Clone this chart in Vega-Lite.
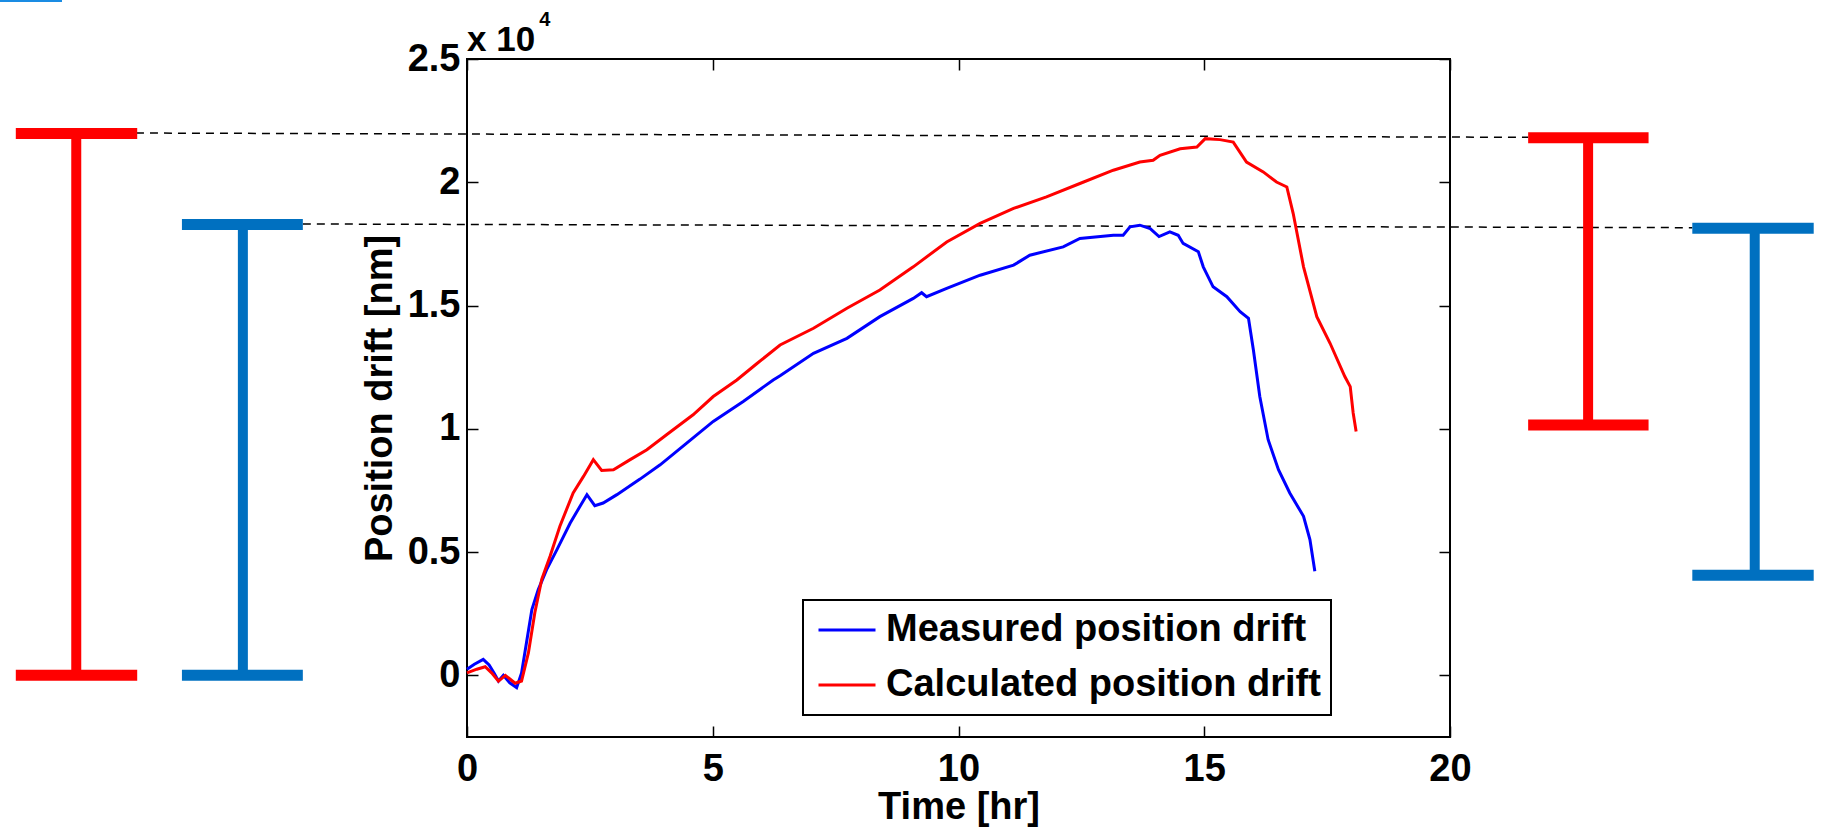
{
  "$schema": "https://vega.github.io/schema/vega-lite/v6.json",
  "width": 983,
  "height": 678,
  "autosize": {"type": "none"},
  "padding": {"left": 467, "top": 59, "right": 376, "bottom": 92},
  "background": "white",
  "datasets": {
    "drift": [
      {"series": "Measured position drift", "t": 0.00, "nm": 250},
      {"series": "Measured position drift", "t": 0.15, "nm": 450},
      {"series": "Measured position drift", "t": 0.33, "nm": 650},
      {"series": "Measured position drift", "t": 0.45, "nm": 420},
      {"series": "Measured position drift", "t": 0.55, "nm": 100},
      {"series": "Measured position drift", "t": 0.64, "nm": -230},
      {"series": "Measured position drift", "t": 0.74, "nm": 0},
      {"series": "Measured position drift", "t": 0.87, "nm": -300},
      {"series": "Measured position drift", "t": 1.01, "nm": -500},
      {"series": "Measured position drift", "t": 1.11, "nm": 100},
      {"series": "Measured position drift", "t": 1.21, "nm": 1320},
      {"series": "Measured position drift", "t": 1.32, "nm": 2670},
      {"series": "Measured position drift", "t": 1.45, "nm": 3480},
      {"series": "Measured position drift", "t": 1.62, "nm": 4290},
      {"series": "Measured position drift", "t": 1.83, "nm": 5100},
      {"series": "Measured position drift", "t": 2.10, "nm": 6180},
      {"series": "Measured position drift", "t": 2.30, "nm": 6860},
      {"series": "Measured position drift", "t": 2.44, "nm": 7330},
      {"series": "Measured position drift", "t": 2.60, "nm": 6880},
      {"series": "Measured position drift", "t": 2.77, "nm": 6990},
      {"series": "Measured position drift", "t": 3.05, "nm": 7330},
      {"series": "Measured position drift", "t": 3.52, "nm": 7960},
      {"series": "Measured position drift", "t": 3.93, "nm": 8540},
      {"series": "Measured position drift", "t": 4.47, "nm": 9420},
      {"series": "Measured position drift", "t": 5.01, "nm": 10300},
      {"series": "Measured position drift", "t": 5.62, "nm": 11110},
      {"series": "Measured position drift", "t": 6.23, "nm": 11980},
      {"series": "Measured position drift", "t": 6.37, "nm": 12150},
      {"series": "Measured position drift", "t": 7.05, "nm": 13060},
      {"series": "Measured position drift", "t": 7.73, "nm": 13670},
      {"series": "Measured position drift", "t": 8.40, "nm": 14550},
      {"series": "Measured position drift", "t": 9.08, "nm": 15290},
      {"series": "Measured position drift", "t": 9.25, "nm": 15520},
      {"series": "Measured position drift", "t": 9.35, "nm": 15360},
      {"series": "Measured position drift", "t": 9.76, "nm": 15700},
      {"series": "Measured position drift", "t": 10.44, "nm": 16230},
      {"series": "Measured position drift", "t": 11.12, "nm": 16640},
      {"series": "Measured position drift", "t": 11.45, "nm": 17040},
      {"series": "Measured position drift", "t": 12.13, "nm": 17380},
      {"series": "Measured position drift", "t": 12.47, "nm": 17720},
      {"series": "Measured position drift", "t": 13.15, "nm": 17850},
      {"series": "Measured position drift", "t": 13.35, "nm": 17850},
      {"series": "Measured position drift", "t": 13.49, "nm": 18190},
      {"series": "Measured position drift", "t": 13.69, "nm": 18260},
      {"series": "Measured position drift", "t": 13.90, "nm": 18120},
      {"series": "Measured position drift", "t": 14.08, "nm": 17800},
      {"series": "Measured position drift", "t": 14.30, "nm": 17990},
      {"series": "Measured position drift", "t": 14.47, "nm": 17850},
      {"series": "Measured position drift", "t": 14.57, "nm": 17520},
      {"series": "Measured position drift", "t": 14.88, "nm": 17180},
      {"series": "Measured position drift", "t": 14.98, "nm": 16570},
      {"series": "Measured position drift", "t": 15.18, "nm": 15760},
      {"series": "Measured position drift", "t": 15.46, "nm": 15360},
      {"series": "Measured position drift", "t": 15.73, "nm": 14750},
      {"series": "Measured position drift", "t": 15.90, "nm": 14480},
      {"series": "Measured position drift", "t": 16.00, "nm": 13200},
      {"series": "Measured position drift", "t": 16.13, "nm": 11310},
      {"series": "Measured position drift", "t": 16.30, "nm": 9560},
      {"series": "Measured position drift", "t": 16.51, "nm": 8340},
      {"series": "Measured position drift", "t": 16.74, "nm": 7400},
      {"series": "Measured position drift", "t": 17.02, "nm": 6450},
      {"series": "Measured position drift", "t": 17.15, "nm": 5510},
      {"series": "Measured position drift", "t": 17.25, "nm": 4220},
      {"series": "Calculated position drift", "t": 0.00, "nm": 100},
      {"series": "Calculated position drift", "t": 0.20, "nm": 250},
      {"series": "Calculated position drift", "t": 0.37, "nm": 350},
      {"series": "Calculated position drift", "t": 0.50, "nm": 100},
      {"series": "Calculated position drift", "t": 0.64, "nm": -230},
      {"series": "Calculated position drift", "t": 0.78, "nm": 0},
      {"series": "Calculated position drift", "t": 0.98, "nm": -320},
      {"series": "Calculated position drift", "t": 1.11, "nm": -230},
      {"series": "Calculated position drift", "t": 1.25, "nm": 920},
      {"series": "Calculated position drift", "t": 1.38, "nm": 2540},
      {"series": "Calculated position drift", "t": 1.52, "nm": 3890},
      {"series": "Calculated position drift", "t": 1.69, "nm": 4830},
      {"series": "Calculated position drift", "t": 1.89, "nm": 6050},
      {"series": "Calculated position drift", "t": 2.16, "nm": 7400},
      {"series": "Calculated position drift", "t": 2.37, "nm": 8070},
      {"series": "Calculated position drift", "t": 2.57, "nm": 8750},
      {"series": "Calculated position drift", "t": 2.74, "nm": 8310},
      {"series": "Calculated position drift", "t": 2.98, "nm": 8340},
      {"series": "Calculated position drift", "t": 3.32, "nm": 8750},
      {"series": "Calculated position drift", "t": 3.66, "nm": 9150},
      {"series": "Calculated position drift", "t": 4.06, "nm": 9760},
      {"series": "Calculated position drift", "t": 4.60, "nm": 10570},
      {"series": "Calculated position drift", "t": 5.01, "nm": 11310},
      {"series": "Calculated position drift", "t": 5.49, "nm": 11980},
      {"series": "Calculated position drift", "t": 5.90, "nm": 12650},
      {"series": "Calculated position drift", "t": 6.37, "nm": 13400},
      {"series": "Calculated position drift", "t": 7.05, "nm": 14080},
      {"series": "Calculated position drift", "t": 7.73, "nm": 14890},
      {"series": "Calculated position drift", "t": 8.40, "nm": 15630},
      {"series": "Calculated position drift", "t": 9.08, "nm": 16570},
      {"series": "Calculated position drift", "t": 9.76, "nm": 17580},
      {"series": "Calculated position drift", "t": 10.44, "nm": 18330},
      {"series": "Calculated position drift", "t": 11.12, "nm": 18940},
      {"series": "Calculated position drift", "t": 11.79, "nm": 19410},
      {"series": "Calculated position drift", "t": 12.47, "nm": 19950},
      {"series": "Calculated position drift", "t": 13.15, "nm": 20490},
      {"series": "Calculated position drift", "t": 13.69, "nm": 20820},
      {"series": "Calculated position drift", "t": 13.96, "nm": 20890},
      {"series": "Calculated position drift", "t": 14.10, "nm": 21090},
      {"series": "Calculated position drift", "t": 14.51, "nm": 21360},
      {"series": "Calculated position drift", "t": 14.85, "nm": 21430},
      {"series": "Calculated position drift", "t": 15.02, "nm": 21770},
      {"series": "Calculated position drift", "t": 15.32, "nm": 21730},
      {"series": "Calculated position drift", "t": 15.59, "nm": 21630},
      {"series": "Calculated position drift", "t": 15.86, "nm": 20820},
      {"series": "Calculated position drift", "t": 16.20, "nm": 20420},
      {"series": "Calculated position drift", "t": 16.47, "nm": 20010},
      {"series": "Calculated position drift", "t": 16.68, "nm": 19810},
      {"series": "Calculated position drift", "t": 16.81, "nm": 18730},
      {"series": "Calculated position drift", "t": 17.02, "nm": 16570},
      {"series": "Calculated position drift", "t": 17.29, "nm": 14550},
      {"series": "Calculated position drift", "t": 17.56, "nm": 13470},
      {"series": "Calculated position drift", "t": 17.86, "nm": 12120},
      {"series": "Calculated position drift", "t": 17.97, "nm": 11710},
      {"series": "Calculated position drift", "t": 18.03, "nm": 10640},
      {"series": "Calculated position drift", "t": 18.09, "nm": 9890}
    ],
    "ranges": [
      {"series": "Calculated", "xc": -7.95, "x0": -9.18, "x1": -6.71, "top": 21978, "bottom": 0},
      {"series": "Measured", "xc": -4.56, "x0": -5.80, "x1": -3.34, "top": 18287, "bottom": 0},
      {"series": "Calculated", "xc": 22.81, "x0": 21.59, "x1": 24.04, "top": 21808, "bottom": 10155},
      {"series": "Measured", "xc": 26.20, "x0": 24.93, "x1": 27.40, "top": 18133, "bottom": 4059}
    ],
    "guides": [
      {"x0": -7.02, "x1": 21.59, "y0": 21999, "y1": 21824},
      {"x0": -3.34, "x1": 24.93, "y0": 18308, "y1": 18158}
    ]
  },
  "layer": [
    {
      "data": {"name": "guides"},
      "mark": {"type": "rule", "color": "black", "strokeWidth": 1.5, "strokeDash": [8, 6]},
      "encoding": {
        "x": {"field": "x0", "type": "quantitative", "scale": {"domain": [0, 20], "nice": false, "zero": false},
              "axis": {"orient": "top", "labels": false, "title": null, "values": [0, 5, 10, 15, 20]}},
        "x2": {"field": "x1"},
        "y": {"field": "y0", "type": "quantitative", "scale": {"domain": [-2500, 25000], "nice": false, "zero": false},
              "axis": {"orient": "right", "labels": false, "title": null, "values": [0, 5000, 10000, 15000, 20000, 25000]}},
        "y2": {"field": "y1"}
      }
    },
    {
      "data": {"name": "drift"},
      "mark": {"type": "line", "strokeWidth": 3},
      "encoding": {
        "x": {"field": "t", "type": "quantitative",
              "axis": {"orient": "bottom", "title": "Time [hr]", "values": [0, 5, 10, 15, 20], "labelPadding": 24, "titlePadding": 0}},
        "y": {"field": "nm", "type": "quantitative",
              "axis": {"orient": "left", "title": "Position drift [nm]", "values": [0, 5000, 10000, 15000, 20000, 25000],
                       "labelExpr": "'' + datum.value / 10000", "labelPadding": 18, "titlePadding": 8}},
        "color": {"field": "series", "type": "nominal",
                  "scale": {"domain": ["Measured position drift", "Calculated position drift"], "range": ["#0000FF", "#FF0000"]},
                  "legend": {"orient": "none", "legendX": 336, "legendY": 541, "title": null,
                             "strokeColor": "black", "fillColor": "white", "padding": 10,
                             "symbolType": "stroke", "symbolSize": 3249, "symbolStrokeWidth": 3, "symbolOffset": 4,
                             "clipHeight": 40,
                             "labelFontSize": 38, "labelFont": "Liberation Sans", "labelFontWeight": "bold", "labelColor": "black",
                             "labelOffset": 9, "rowPadding": 15, "labelLimit": 0,
                             "encode": {"legend": {"update": {"strokeWidth": {"value": 2}}}}}}
      }
    },
    {
      "data": {"name": "ranges"},
      "mark": {"type": "rule", "strokeWidth": 10, "strokeCap": "butt"},
      "encoding": {
        "x": {"field": "xc", "type": "quantitative", "axis": null},
        "y": {"field": "bottom", "type": "quantitative", "axis": null},
        "y2": {"field": "top"},
        "stroke": {"field": "series", "type": "nominal", "legend": null,
                   "scale": {"domain": ["Calculated", "Measured"], "range": ["#FF0000", "#0070C0"]}}
      }
    },
    {
      "data": {"name": "ranges"},
      "mark": {"type": "rule", "strokeWidth": 11, "strokeCap": "butt"},
      "encoding": {
        "x": {"field": "x0", "type": "quantitative", "axis": null},
        "x2": {"field": "x1"},
        "y": {"field": "top", "type": "quantitative", "axis": null},
        "stroke": {"field": "series", "type": "nominal", "legend": null}
      }
    },
    {
      "data": {"name": "ranges"},
      "mark": {"type": "rule", "strokeWidth": 11, "strokeCap": "butt"},
      "encoding": {
        "x": {"field": "x0", "type": "quantitative", "axis": null},
        "x2": {"field": "x1"},
        "y": {"field": "bottom", "type": "quantitative", "axis": null},
        "stroke": {"field": "series", "type": "nominal", "legend": null}
      }
    },
    {
      "data": {"values": [{"label": "x 10", "t": 0, "nm": 25344}]},
      "mark": {"type": "text", "align": "left", "baseline": "alphabetic", "fontSize": 35, "fontWeight": "bold", "font": "Liberation Sans", "color": "black"},
      "encoding": {
        "x": {"field": "t", "type": "quantitative", "axis": null},
        "y": {"field": "nm", "type": "quantitative", "axis": null},
        "text": {"field": "label"}
      }
    },
    {
      "data": {"values": [{"label": "4", "t": 1.47, "nm": 26338}]},
      "mark": {"type": "text", "align": "left", "baseline": "alphabetic", "fontSize": 20, "fontWeight": "bold", "font": "Liberation Sans", "color": "black"},
      "encoding": {
        "x": {"field": "t", "type": "quantitative", "axis": null},
        "y": {"field": "nm", "type": "quantitative", "axis": null},
        "text": {"field": "label"}
      }
    },
    {
      "data": {"values": [{"x0": -9.502, "x1": -8.24, "y": 27352}]},
      "mark": {"type": "rule", "color": "#1a8ce3", "strokeWidth": 2, "strokeCap": "butt"},
      "encoding": {
        "x": {"field": "x0", "type": "quantitative", "axis": null},
        "x2": {"field": "x1"},
        "y": {"field": "y", "type": "quantitative", "axis": null}
      }
    }
  ],
  "config": {
    "view": {"stroke": "black", "strokeWidth": 2},
    "axis": {"grid": false, "domain": false, "tickColor": "black", "tickWidth": 1.5, "tickSize": -11,
             "labelFont": "Liberation Sans", "labelFontWeight": "bold", "labelFontSize": 38, "labelColor": "black",
             "titleFont": "Liberation Sans", "titleFontWeight": "bold", "titleFontSize": 38, "titleColor": "black",
             "labelFlush": false, "labelOverlap": false, "labelBound": false}
  }
}
